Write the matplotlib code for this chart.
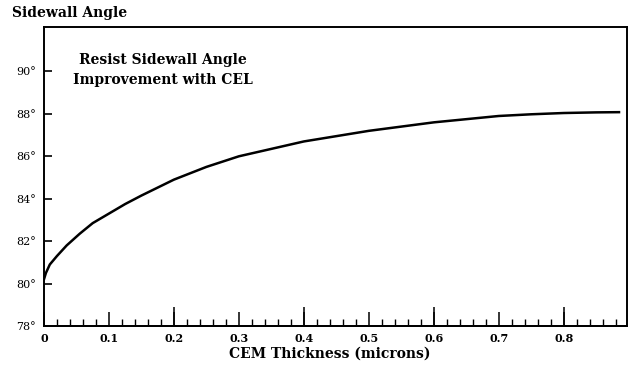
import matplotlib
matplotlib.use("Agg")
import matplotlib.pyplot as plt
from matplotlib.ticker import MultipleLocator, FixedLocator

# CEM thickness (microns) vs. resist sidewall angle (degrees)
thickness = [0.0, 0.003, 0.009, 0.02, 0.035, 0.055, 0.075, 0.1, 0.125, 0.15, 0.2, 0.25,
             0.3, 0.35, 0.4, 0.45, 0.5, 0.55, 0.6, 0.65, 0.7, 0.75, 0.8, 0.85, 0.885]
angle = [80.2, 80.5, 80.9, 81.3, 81.8, 82.35, 82.85, 83.3, 83.75, 84.15, 84.9, 85.5,
         86.0, 86.35, 86.7, 86.95, 87.2, 87.4, 87.6, 87.75, 87.9, 87.98, 88.04, 88.07, 88.08]

yticks = [78, 80, 82, 84, 86, 88, 90]
ytick_labels = [f"{v}°" for v in yticks]
xticks = [0, 0.1, 0.2, 0.3, 0.4, 0.5, 0.6, 0.7, 0.8]
xtick_labels = ["0", "0.1", "0.2", "0.3", "0.4", "0.5", "0.6", "0.7", "0.8"]
long_ticks = [0.2, 0.4, 0.6, 0.8]

plt.rcParams["font.family"] = ["DejaVu Serif"]

fig = plt.figure(figsize=(6.37, 3.68), dpi=100)
ax = fig.add_axes([0.069, 0.114, 0.915, 0.813])

ax.plot(thickness, angle, color="black", linewidth=1.8)

ax.set_xlim(0, 0.897)
ax.set_ylim(78, 92.1)

ax.set_yticks(yticks)
ax.set_yticklabels(ytick_labels, fontsize=8)
ax.set_xticks(xticks)
ax.set_xticklabels(xtick_labels, fontsize=8, fontweight="bold")
ax.xaxis.set_minor_locator(MultipleLocator(0.02))

ax.tick_params(axis="y", direction="in", length=6, width=1.2, pad=6)
ax.tick_params(axis="x", which="major", direction="in", length=10, width=1.1, pad=5)
ax.tick_params(axis="x", which="minor", direction="in", length=5, width=1.0)
ax.tick_params(top=False, right=False)

# taller ticks every 0.2
sec = ax.secondary_xaxis("bottom")
sec.xaxis.set_major_locator(FixedLocator(long_ticks))
sec.set_xticklabels([])
sec.tick_params(direction="in", length=14, width=1.1)
sec.spines["bottom"].set_linewidth(1.4)

for s in ax.spines.values():
    s.set_linewidth(1.4)

ax.set_xlabel("CEM Thickness (microns)", fontsize=10, fontweight="bold")
ax.xaxis.set_label_coords(0.49, -0.07)
fig.text(0.019, 0.965, "Sidewall Angle", fontsize=10, fontweight="bold",
         ha="left", va="center")

ax.text(0.204, 0.855, "Resist Sidewall Angle\nImprovement with CEL", transform=ax.transAxes,
        fontsize=10, fontweight="bold", ha="center", va="center", linespacing=1.5)

fig.savefig("out.png", dpi=100)
